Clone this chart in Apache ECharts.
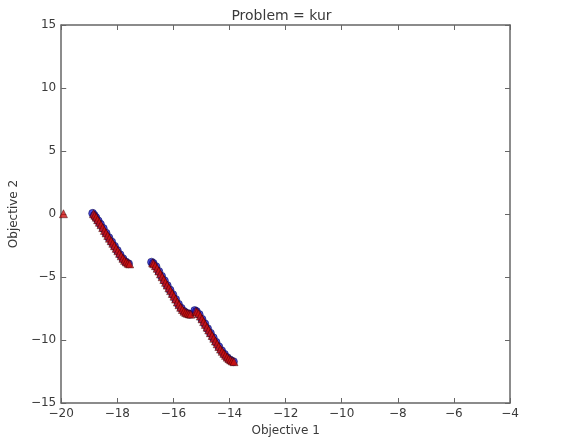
<!DOCTYPE html>
<html>
<head>
<meta charset="utf-8">
<script src="https://cdn.jsdelivr.net/npm/echarts@6/dist/echarts.min.js"></script>
<style>
  html, body { margin: 0; padding: 0; background: #fff; }
  #chart { width: 563px; height: 444px; }
</style>
</head>
<body>
<div id="chart"></div>
<script>
// Pareto front of the Kursawe problem: two overlaid point sets.
const titleText = 'Problem = kur';
const xName = 'Objective 1';
const yName = 'Objective 2';
const xTicks = [-20, -18, -16, -14, -12, -10, -8, -6, -4];
const yTicks = [-15, -10, -5, 0, 5, 10, 15];

// Blue circles
const frontCircles = [
  [-18.88, 0.05], [-18.82, -0.12], [-18.76, -0.30], [-18.68, -0.55], [-18.60, -0.82],
  [-18.50, -1.15], [-18.40, -1.52], [-18.30, -1.88], [-18.20, -2.22], [-18.10, -2.56],
  [-18.00, -2.90], [-17.90, -3.24], [-17.80, -3.55], [-17.70, -3.80], [-17.60, -3.95],
  [-16.78, -3.82], [-16.72, -3.92], [-16.62, -4.18], [-16.52, -4.56], [-16.42, -4.94],
  [-16.32, -5.30], [-16.22, -5.68], [-16.12, -6.04], [-16.02, -6.40], [-15.92, -6.78],
  [-15.82, -7.16], [-15.72, -7.48], [-15.62, -7.74], [-15.52, -7.88], [-15.42, -7.96],
  [-15.24, -7.66], [-15.18, -7.74], [-15.08, -7.98], [-14.98, -8.36], [-14.88, -8.72],
  [-14.78, -9.10], [-14.68, -9.46], [-14.58, -9.82], [-14.48, -10.18], [-14.38, -10.54],
  [-14.28, -10.86], [-14.18, -11.14], [-14.08, -11.40], [-13.98, -11.58], [-13.86, -11.72]
];

// Red triangles
const frontTriangles = [
  [-19.92, 0.02],
  [-18.85, 0.02], [-18.80, -0.10], [-18.75, -0.25], [-18.70, -0.45], [-18.64, -0.65],
  [-18.58, -0.85], [-18.52, -1.08], [-18.46, -1.30], [-18.40, -1.50], [-18.34, -1.70],
  [-18.28, -1.92], [-18.22, -2.12], [-18.16, -2.32], [-18.10, -2.52], [-18.04, -2.72],
  [-17.98, -2.92], [-17.92, -3.12], [-17.86, -3.32], [-17.80, -3.52], [-17.74, -3.68],
  [-17.68, -3.80], [-17.62, -3.90], [-17.56, -3.96],
  [-16.74, -3.88], [-16.70, -3.95], [-16.64, -4.10], [-16.58, -4.30], [-16.52, -4.52],
  [-16.46, -4.75], [-16.40, -4.98], [-16.34, -5.20], [-16.28, -5.42], [-16.22, -5.64],
  [-16.16, -5.86], [-16.10, -6.08], [-16.04, -6.30], [-15.98, -6.52], [-15.92, -6.75],
  [-15.86, -6.98], [-15.80, -7.20], [-15.74, -7.40], [-15.68, -7.58], [-15.62, -7.72],
  [-15.56, -7.82], [-15.50, -7.88], [-15.44, -7.92], [-15.38, -7.95],
  [-15.20, -7.72], [-15.16, -7.78], [-15.10, -7.90], [-15.04, -8.10], [-14.98, -8.32],
  [-14.92, -8.54], [-14.86, -8.76], [-14.80, -8.98], [-14.74, -9.20], [-14.68, -9.42],
  [-14.62, -9.64], [-14.56, -9.86], [-14.50, -10.08], [-14.44, -10.30], [-14.38, -10.52],
  [-14.32, -10.72], [-14.26, -10.90], [-14.20, -11.06], [-14.14, -11.22], [-14.08, -11.36],
  [-14.02, -11.48], [-13.96, -11.58], [-13.90, -11.66], [-13.84, -11.72]
];

const FONT = '"DejaVu Sans", sans-serif';
const AXIS_COLOR = '#666666';
const TEXT_COLOR = '#3a3a3a';
const fmt = v => String(v).replace('-', '\u2212');

const chart = echarts.init(document.getElementById('chart'), null, { renderer: 'canvas' });

function frameAxis(extra) {
  return Object.assign({
    type: 'value',
    axisLine: { show: true, onZero: false, lineStyle: { color: AXIS_COLOR, width: 1.5 } },
    axisTick: { show: true, inside: true, length: 5, lineStyle: { color: AXIS_COLOR, width: 1 } },
    splitLine: { show: false }
  }, extra);
}

chart.setOption({
  animation: false,
  backgroundColor: '#ffffff',
  title: {
    text: titleText,
    left: 'center',
    top: 4,
    textStyle: { fontFamily: FONT, fontSize: 14, fontWeight: 'normal', color: TEXT_COLOR }
  },
  grid: { left: 58, right: 53, top: 25, bottom: 41, containLabel: false },
  xAxis: [
    frameAxis({
      position: 'bottom', min: xTicks[0], max: xTicks[xTicks.length - 1], interval: 2,
      name: xName, nameLocation: 'middle', nameGap: 20,
      nameTextStyle: { fontFamily: FONT, fontSize: 12, color: TEXT_COLOR },
      axisLabel: { formatter: fmt, margin: 5, fontFamily: FONT, fontSize: 12, color: TEXT_COLOR }
    }),
    frameAxis({
      position: 'top', min: xTicks[0], max: xTicks[xTicks.length - 1], interval: 2,
      axisLabel: { show: false }
    })
  ],
  yAxis: [
    frameAxis({
      position: 'left', min: yTicks[0], max: yTicks[yTicks.length - 1], interval: 5,
      name: yName, nameLocation: 'middle', nameGap: 38,
      nameTextStyle: { fontFamily: FONT, fontSize: 12, color: TEXT_COLOR },
      axisLabel: { formatter: fmt, margin: 5, fontFamily: FONT, fontSize: 12, color: TEXT_COLOR }
    }),
    frameAxis({
      position: 'right', min: yTicks[0], max: yTicks[yTicks.length - 1], interval: 5,
      axisLabel: { show: false }
    })
  ],
  series: [
    {
      type: 'scatter', data: frontCircles, symbol: 'circle', symbolSize: 8,
      itemStyle: { color: '#1c1cd8', borderColor: '#000033', borderWidth: 0.6 }
    },
    {
      type: 'scatter', data: frontTriangles, symbol: 'triangle', symbolSize: 8,
      itemStyle: { color: '#cc1010', borderColor: '#3a0000', borderWidth: 0.6 }
    }
  ]
});
</script>
</body>
</html>
